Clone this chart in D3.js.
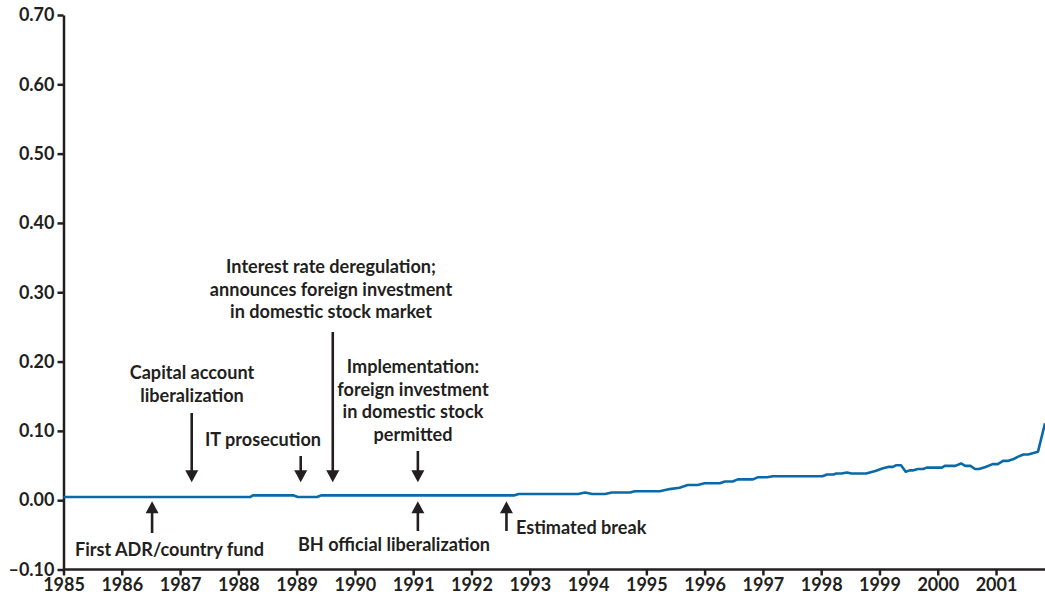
<!DOCTYPE html>
<html><head><meta charset="utf-8">
<script src="https://cdn.jsdelivr.net/npm/d3@7"></script>
<style>
html,body{margin:0;padding:0;background:#fff;}
svg{display:block;}
</style></head>
<body><svg id="c" width="1045" height="599"></svg>
<script>
// ---- data ----
const years = [1985.0,1988.2,1988.25,1988.94,1989.02,1989.35,1989.42,1992.74,1992.81,1993.83,1993.95,1994.07,1994.29,1994.41,1994.72,1994.8,1995.23,1995.4,1995.57,1995.71,1995.88,1996.0,1996.26,1996.35,1996.48,1996.57,1996.83,1996.91,1997.07,1997.17,1998.02,1998.1,1998.21,1998.26,1998.35,1998.44,1998.52,1998.77,1998.93,1999.06,1999.15,1999.23,1999.29,1999.37,1999.45,1999.52,1999.57,1999.66,1999.75,1999.81,2000.07,2000.12,2000.3,2000.4,2000.47,2000.56,2000.64,2000.71,2000.82,2000.94,2001.03,2001.12,2001.2,2001.29,2001.37,2001.47,2001.55,2001.72,2001.84];
const values = [0.0045,0.0045,0.007,0.007,0.0045,0.0045,0.007,0.007,0.009,0.009,0.011,0.009,0.009,0.011,0.011,0.013,0.013,0.016,0.018,0.022,0.022,0.0245,0.0245,0.027,0.027,0.030,0.030,0.033,0.033,0.0345,0.0345,0.037,0.037,0.0385,0.0385,0.040,0.0385,0.0385,0.042,0.046,0.048,0.048,0.0505,0.0505,0.041,0.043,0.043,0.045,0.045,0.047,0.047,0.0495,0.0495,0.053,0.0495,0.0495,0.045,0.045,0.048,0.052,0.052,0.0567,0.0567,0.059,0.0625,0.066,0.066,0.070,0.111];
const yTicks = [-0.10,0.00,0.10,0.20,0.30,0.40,0.50,0.60,0.70];
const xTicks = [1985,1986,1987,1988,1989,1990,1991,1992,1993,1994,1995,1996,1997,1998,1999,2000,2001];

// events pointing down (above the line) and up (below the line)
const downYears = [1987.2, 1989.07, 1989.62, 1991.08];
const downLabels = [
  ["Capital account","liberalization"],
  ["IT prosecution"],
  ["Interest rate deregulation;","announces foreign investment","in domestic stock market"],
  ["Implementation:","foreign investment","in domestic stock","permitted"]
];
const upYears = [1986.52, 1991.08, 1992.6];
const upLabels = ["First ADR/country fund","BH official liberalization","Estimated break"];

// ---- chart ----
const svg = d3.select("#c");
const x = d3.scaleLinear().domain([1985, 2001.84]).range([63.5, 1045]);
const y = d3.scaleLinear().domain([-0.1, 0.7]).range([569.5, 15]);
const ink = "#231f20";
const fam = "Lato, 'Open Sans', sans-serif";

const fmtY = d => (d < 0 ? "\u2013" : "") + Math.abs(d).toFixed(2);

const gy = svg.append("g").attr("transform","translate(63.5,0)")
  .call(d3.axisLeft(y).tickValues(yTicks).tickFormat(fmtY).tickSize(6).tickSizeOuter(0).tickPadding(3));
const gx = svg.append("g").attr("transform","translate(0,569.5)")
  .call(d3.axisBottom(x).tickValues(xTicks).tickFormat(d3.format("d")).tickSize(6).tickSizeOuter(0).tickPadding(3));
[gy,gx].forEach(g=>{
  g.select(".domain").attr("stroke",ink).attr("stroke-width",2.5);
  g.selectAll(".tick line").attr("stroke",ink).attr("stroke-width",2.5);
  g.selectAll(".tick text").attr("fill",ink).attr("font-family",fam)
    .attr("font-weight","700").attr("font-size","18px");
});
gx.select(".domain").attr("d","M63.5,0H1045");

// line
const line = d3.line().x((d,i)=>x(years[i])).y(d=>y(d));
svg.append("path").datum(values).attr("d",line)
  .attr("fill","none").attr("stroke","#0a6aa8").attr("stroke-width",2.6)
  .attr("stroke-linejoin","round");

// arrows
function arrow(xp, y1, y2){ // from y1 to tip y2
  const dir = y2 > y1 ? 1 : -1;
  const hh = 12, hw = 6.5;
  svg.append("line").attr("x1",xp).attr("x2",xp).attr("y1",y1).attr("y2",y2 - dir*hh+dir*1)
    .attr("stroke",ink).attr("stroke-width",2.6);
  svg.append("path").attr("d",`M${xp-hw},${y2-dir*hh}L${xp+hw},${y2-dir*hh}L${xp},${y2}Z`).attr("fill",ink);
}
const base = y(0.007);
const downStart = [413, 456, 332, 451];
downYears.forEach((yr,i)=> arrow(x(yr), downStart[i], base - 13));
const upEnd = [533, 531, 531];
upYears.forEach((yr,i)=> arrow(x(yr), upEnd[i], base + 6));

const tfont = (s)=> s.attr("fill",ink).attr("font-family",fam)
  .attr("font-weight","700").attr("font-size","18.1px");

function block(lines, cx, y0, anchor, lh){
  const t = svg.append("text").attr("text-anchor",anchor);
  tfont(t);
  lines.forEach((l,i)=> t.append("tspan").attr("x",cx).attr("y",y0 + i*lh).text(l));
}
block(downLabels[0], 192, 379, "middle", 23);
block(downLabels[1], 205, 446, "start", 22);
block(downLabels[2], 331, 273, "middle", 22.5);
block(downLabels[3], 413, 373, "middle", 22.6);
block([upLabels[0]], 75, 556, "start", 22);
block([upLabels[1]], 394, 551, "middle", 22);
block([upLabels[2]], 516, 534, "start", 22);
</script></body></html>
